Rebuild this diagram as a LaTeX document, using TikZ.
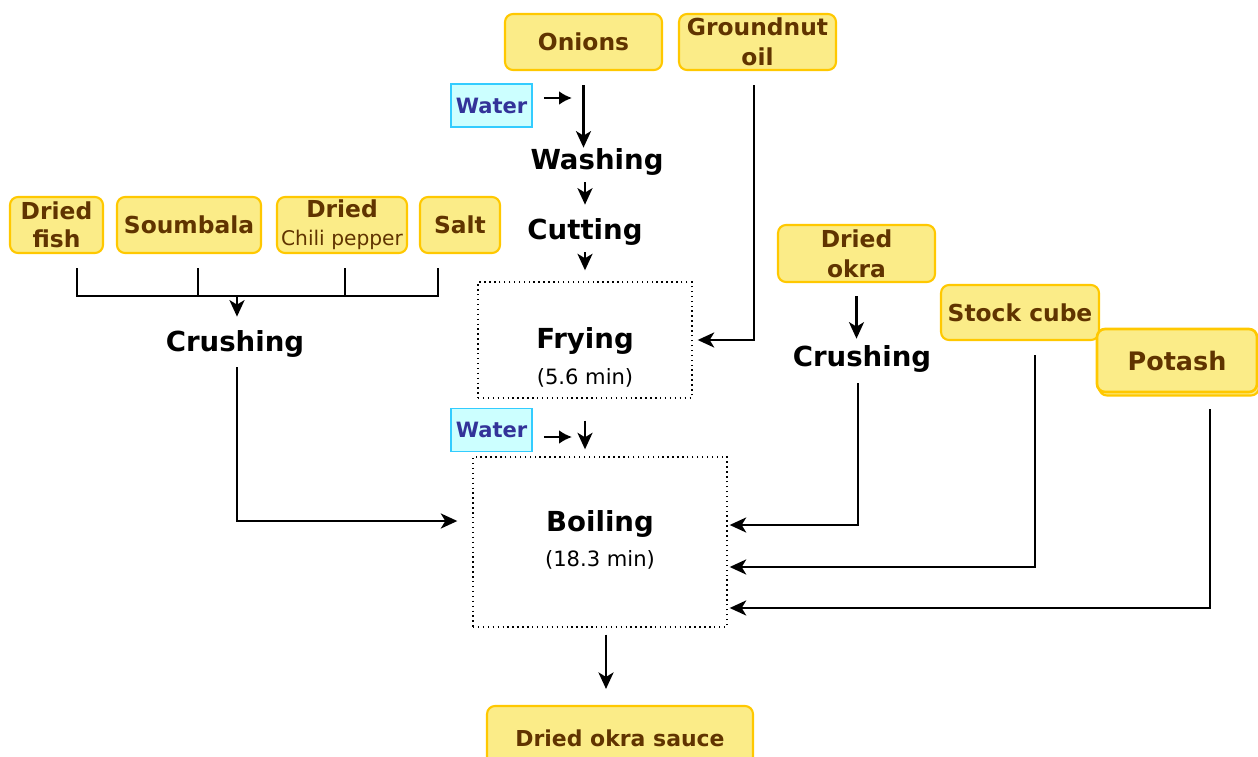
\documentclass[tikz,border=0pt]{standalone}
\usepackage{fontspec}
\setmainfont{DejaVu Sans}
\usetikzlibrary{arrows.meta}
\definecolor{boxfill}{RGB}{251,236,136}
\definecolor{boxline}{RGB}{255,200,0}
\definecolor{boxtext}{RGB}{96,52,0}
\definecolor{waterfill}{RGB}{204,255,255}
\definecolor{waterline}{RGB}{51,204,255}
\definecolor{watertext}{RGB}{51,51,153}
\tikzset{
  ingredient/.style={draw=boxline, fill=boxfill, line width=1.2pt, rounded corners=0.16cm,
    text=boxtext, font=\bfseries\fontsize{13.3}{16}\selectfont, align=center, inner sep=0pt},
  waterbox/.style={draw=waterline, fill=waterfill, line width=1.1pt,
    text=watertext, font=\bfseries\fontsize{12}{14}\selectfont,
    minimum width=1.62cm, minimum height=0.86cm, inner sep=0pt},
  stepname/.style={font=\bfseries\fontsize{15.7}{18}\selectfont, inner sep=0pt, minimum height=0.56cm},
  duration/.style={font=\fontsize{12}{14}\selectfont, inner sep=0pt},
  processbox/.style={draw, dotted, line width=0.8pt, inner sep=0pt},
  arr/.style={-{Stealth[length=3.3mm,width=3mm,inset=0.9mm]}, line width=1.5pt},
  shortarr/.style={-{Latex[length=2.6mm,width=2.8mm]}, line width=1.5pt},
  flow/.style={line width=1.5pt},
}
\begin{document}
\begin{tikzpicture}[x=0.02cm, y=-0.02cm]
\useasboundingbox (0,0) rectangle (1258,757);

% ingredients at the top
\node[ingredient, minimum width=3.14cm, minimum height=1.12cm] (onions) at (583.5,42) {Onions};
\node[ingredient, minimum width=3.14cm, minimum height=1.12cm, font=\bfseries\fontsize{13.3}{17}\selectfont] (oil) at (757.5,42) {Groundnut\\oil};

% water and onion preparation
\node[waterbox] (water1) at (491.5,105.5) {Water};
\node[stepname] (washing) at (597,162) {Washing};
\node[stepname] (cutting) at (585,232) {Cutting};

% frying step
\node[processbox, minimum width=4.28cm, minimum height=2.32cm] (frying) at (585,340) {};
\node[stepname] (fryinglabel) at (585,341) {Frying};
\node[duration] (fryingtime) at (585,378) {(5.6 min)};

% left group of ingredients
\node[ingredient, minimum width=1.86cm, minimum height=1.12cm] (fish) at (56.5,225) {Dried\\fish};
\node[ingredient, minimum width=2.88cm, minimum height=1.12cm] (soumbala) at (189,225) {Soumbala};
\node[ingredient, minimum width=2.6cm, minimum height=1.12cm] (chili) at (342,225) {Dried\\{\mdseries\fontsize{11.5}{13}\selectfont Chili pepper}};
\node[ingredient, minimum width=1.6cm, minimum height=1.12cm] (salt) at (460,225) {Salt};
\node[stepname] (crush1) at (235,344) {Crushing};
\coordinate (bus) at (237,296);

% boiling step
\node[waterbox] (water2) at (491.5,430) {Water};
\node[processbox, minimum width=5.08cm, minimum height=3.4cm] (boiling) at (600,542) {};
\node[stepname] (boilinglabel) at (600,524) {Boiling};
\node[duration] (boilingtime) at (600,560) {(18.3 min)};

% right side ingredients
\node[ingredient, minimum width=3.14cm, minimum height=1.14cm, font=\bfseries\fontsize{13.3}{17}\selectfont] (okra) at (856.5,253.5) {Dried\\okra};
\node[stepname] (crush2) at (862,359) {Crushing};
\node[ingredient, minimum width=3.16cm, minimum height=1.1cm] (stock) at (1020,312.5) {Stock cube};
\node[ingredient, minimum width=3.2cm, minimum height=1.26cm] (potashshadow) at (1179,364) {};
\node[ingredient, minimum width=3.2cm, minimum height=1.26cm, font=\bfseries\fontsize{14.5}{17}\selectfont, line width=1.5pt] (potash) at (1177,360.5) {Potash};

% product
\node[ingredient, minimum width=5.32cm, minimum height=1.28cm, font=\bfseries\fontsize{12.5}{14}\selectfont] (sauce) at (620,738) {Dried okra sauce};

% connectors: onion line
\coordinate (w1tip) at (572,98);
\coordinate (w2tip) at (572,437);
\draw[arr, shorten <=2.8mm] (onions.south) -- (onions.south |- washing.north);
\draw[shortarr, shorten <=2.2mm] (water1.east |- w1tip) -- (w1tip);
\draw[arr, shorten <=1.2mm, shorten >=2.6mm] (cutting.north |- washing.south) -- (cutting.north);
\draw[arr, shorten <=1.2mm, shorten >=2.2mm] (cutting.south) -- (cutting.south |- frying.north);
\draw[arr, shorten <=2.8mm, shorten >=1mm] ([xshift=-0.07cm]oil.south) |- (frying.east);

% connectors: left group
\draw[flow, shorten <=2.8mm] ([xshift=0.41cm]fish.south) |- (bus);
\draw[flow, shorten <=2.8mm] ([xshift=0.18cm]soumbala.south) -- ([xshift=0.18cm]soumbala.south |- bus);
\draw[flow, shorten <=2.8mm] ([xshift=0.06cm]chili.south) -- ([xshift=0.06cm]chili.south |- bus);
\draw[flow, shorten <=2.8mm] ([xshift=-0.44cm]salt.south) |- (bus);
\draw[arr, shorten >=2.6mm] (bus) -- (bus |- crush1.north);
\draw[arr, shorten <=1.8mm, shorten >=3mm] (bus |- crush1.south) |- ([yshift=0.42cm]boiling.west);

% connectors: water into boiling, boiling to product
\draw[shortarr, shorten <=2.2mm] (water2.east |- w2tip) -- (w2tip);
\draw[arr, shorten <=4.4mm, shorten >=1.4mm] (frying.south) -- (frying.south |- boiling.north);
\draw[arr, shorten <=1.4mm, shorten >=3.2mm] ([xshift=0.12cm]boiling.south) -- ([xshift=0.12cm]boiling.south |- sauce.north);

% connectors: right side
\draw[arr, shorten <=2.6mm, shorten >=1.2mm] (okra.south) -- (okra.south |- crush2.north);
\draw[arr, shorten <=2mm, shorten >=0.4mm] ([xshift=-0.08cm]crush2.south) |- ([yshift=0.34cm]boiling.east);
\draw[arr, shorten <=2.8mm, shorten >=0.4mm] ([xshift=0.3cm]stock.south) |- ([yshift=-0.5cm]boiling.east);
\draw[arr, shorten <=3.2mm, shorten >=0.4mm] ([xshift=0.66cm]potash.south) |- ([yshift=-1.32cm]boiling.east);
\end{tikzpicture}
\end{document}
